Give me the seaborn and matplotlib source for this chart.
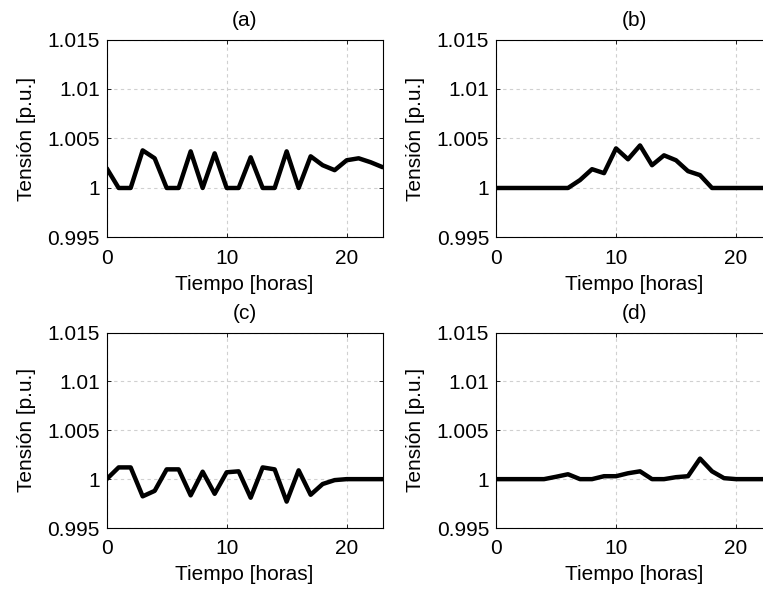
import numpy as np
import pandas as pd
import matplotlib
matplotlib.use("Agg")
import matplotlib.pyplot as plt
import matplotlib.ticker as mticker
import seaborn as sns

# horas del dia
horas = list(range(24))

# tension [p.u.] por caso
tension_a = [1.0020, 1.0000, 1.0000, 1.0038, 1.0030, 1.0000, 1.0000, 1.0037, 1.0000, 1.0035,
             1.0000, 1.0000, 1.0031, 1.0000, 1.0000, 1.0037, 1.0000, 1.0032, 1.0023, 1.0018,
             1.0028, 1.0030, 1.0026, 1.0021]
tension_b = [1.0000, 1.0000, 1.0000, 1.0000, 1.0000, 1.0000, 1.0000, 1.0008, 1.0019, 1.0015,
             1.0040, 1.0029, 1.0043, 1.0023, 1.0033, 1.0028, 1.0017, 1.0013, 1.0000, 1.0000,
             1.0000, 1.0000, 1.0000, 1.0000]
tension_c = [1.0000, 1.0012, 1.0012, 0.99824, 0.9988, 1.0010, 1.0010, 0.99834, 1.00076, 0.9985,
             1.0007, 1.0008, 0.9981, 1.0012, 1.0010, 0.9977, 1.0009, 0.9984, 0.9995, 0.9999,
             1.0000, 1.0000, 1.0000, 1.0000]
tension_d = [1.0000, 1.0000, 1.0000, 1.0000, 1.0000, 1.00024, 1.0005, 1.0000, 1.0000, 1.0003,
             1.0003, 1.0006, 1.0008, 1.0000, 1.0000, 1.0002, 1.0003, 1.0021, 1.0008, 1.0001,
             1.0000, 1.0000, 1.0000, 1.0000]

titulos = ["(a)", "(b)", "(c)", "(d)"]
series = [tension_a, tension_b, tension_c, tension_d]

sns.set_style("white")
plt.rcParams['font.family'] = ['Liberation Sans', 'DejaVu Sans']
plt.rcParams['text.color'] = 'black'
plt.rcParams['axes.labelcolor'] = 'black'
plt.rcParams['xtick.color'] = 'black'
plt.rcParams['ytick.color'] = 'black'

fig = plt.figure(figsize=(7.63, 5.94), dpi=100)

# posiciones de los ejes (como en MATLAB, el panel derecho se sale un poco)
posiciones = [
    [0.1398, 0.6002, 0.3617, 0.3333],
    [0.6501, 0.6002, 0.3617, 0.3333],
    [0.1398, 0.1111, 0.3617, 0.3291],
    [0.6501, 0.1111, 0.3617, 0.3291],
]

for pos, titulo, valores in zip(posiciones, titulos, series):
    ax = fig.add_axes(pos)
    df = pd.DataFrame({"hora": horas, "tension": valores})
    sns.lineplot(data=df, x="hora", y="tension", ax=ax, color="black", linewidth=3.2)
    ax.set_xlim(0, 23)
    ax.set_ylim(0.995, 1.015)
    ax.set_xticks([0, 10, 20])
    ax.set_yticks([0.995, 1.0, 1.005, 1.01, 1.015])
    ax.yaxis.set_major_formatter(mticker.FuncFormatter(lambda v, p: "%g" % round(v, 4)))
    ax.grid(True, linestyle=(0, (3, 3)), color="#d0d0d0", linewidth=0.8)
    for s in ax.spines.values():
        s.set_color("black")
        s.set_linewidth(0.8)
    ax.tick_params(direction="in", length=3, width=0.6, labelsize=15,
                   top=True, right=True, bottom=True, left=True)
    ax.tick_params(axis="y", pad=5)
    ax.tick_params(axis="x", pad=8)
    ax.set_xlabel("Tiempo [horas]", fontsize=15, labelpad=5)
    ax.set_ylabel("Tensión [p.u.]", fontsize=15, labelpad=8)
    ax.set_title(titulo, fontsize=15, pad=10)

fig.savefig("out.png", dpi=100)
